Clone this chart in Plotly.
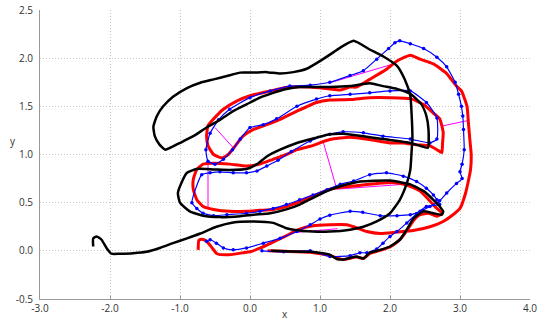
import plotly.graph_objects as go

# ---- black trajectory ----
black_x = [-2.24, -2.24, -2.19, -2.12, -2.05, -1.98, -1.86, -1.67, -1.48, -1.29, -1.10, -0.90, -0.71, -0.48, -0.24,
           0.05, 0.33, 0.52, 0.62, 0.90, 1.14, 1.43, 1.62, 1.81, 2.00, 2.14, 2.24, 2.29, 2.31, 2.32, 2.31, 2.29,
           2.21, 2.10, 1.90, 1.71, 1.48, 1.29, 1.19, 1.00, 0.81, 0.62, 0.43, 0.24, 0.05, -0.14, -0.33, -0.52,
           -0.71, -0.90, -1.10, -1.24, -1.33, -1.38, -1.36, -1.29, -1.21, -1.14, -1.00, -0.81, -0.62, -0.43,
           -0.24, -0.05, 0.14, 0.33, 0.52, 0.71, 0.86, 1.14, 1.43, 1.71, 1.90, 2.10, 2.29, 2.45, 2.52, 2.55,
           2.54, 2.43, 2.29, 1.90, 1.62, 1.33, 1.14, 0.95, 0.67, 0.43, 0.24, 0.10, -0.05, -0.29, -0.52, -0.76,
           -0.90, -0.98, -1.03, -1.00, -0.86, -0.67, -0.43, -0.14, 0.05, 0.29, 0.52, 0.71, 0.90, 1.10, 1.29,
           1.57, 2.00, 2.29, 2.48, 2.62, 2.71, 2.76, 2.74, 2.62, 2.48, 2.43, 2.33, 2.24, 2.14, 2.00, 1.86,
           1.71, 1.62, 1.52, 1.33, 1.24, 1.14, 0.86, 0.50, 0.30]
black_y = [0.045, 0.13, 0.15, 0.115, 0.03, -0.03, -0.03, -0.025, -0.01, 0.03, 0.08, 0.13, 0.18, 0.25, 0.295,
           0.305, 0.29, 0.235, 0.22, 0.20, 0.20, 0.22, 0.25, 0.305, 0.39, 0.53, 0.70, 0.84, 1.05, 1.16, 1.40,
           1.61, 1.78, 1.92, 2.02, 2.09, 2.18, 2.11, 2.06, 1.97, 1.89, 1.855, 1.84, 1.855, 1.85, 1.85, 1.815,
           1.78, 1.745, 1.69, 1.60, 1.50, 1.40, 1.29, 1.19, 1.10, 1.05, 1.07, 1.12, 1.19, 1.28, 1.36, 1.45,
           1.52, 1.59, 1.64, 1.68, 1.70, 1.70, 1.70, 1.71, 1.74, 1.71, 1.68, 1.63, 1.52, 1.40, 1.26, 1.07,
           1.09, 1.12, 1.16, 1.19, 1.215, 1.21, 1.175, 1.12, 1.05, 0.98, 0.90, 0.85, 0.84, 0.845, 0.85, 0.81,
           0.705, 0.60, 0.50, 0.41, 0.365, 0.35, 0.36, 0.375, 0.39, 0.43, 0.48, 0.55, 0.62, 0.67, 0.72, 0.73,
           0.69, 0.62, 0.53, 0.46, 0.41, 0.375, 0.39, 0.41, 0.39, 0.33, 0.22, 0.115, 0.045, 0.01, -0.02, -0.08,
           -0.06, -0.09, -0.085, -0.04, -0.01, -0.005, 0.0]

# ---- red trajectory ----
red_x = [-0.74, -0.73, -0.69, -0.62, -0.54, -0.47, -0.30, -0.10, 0.00, 0.15, 0.30, 0.50, 0.69, 0.90, 1.14,
         1.38, 1.52, 1.67, 1.86, 2.10, 2.33, 2.57, 2.76, 2.90, 3.00, 3.08, 3.15, 3.16, 3.14, 3.12, 3.10, 3.02,
         2.95, 2.81, 2.62, 2.43, 2.29, 2.10, 1.95, 1.71, 1.52, 1.43, 1.29, 1.14, 0.86, 0.57, 0.29, 0.00,
         -0.19, -0.38, -0.52, -0.60, -0.62, -0.60, -0.52, -0.40, -0.31, -0.21, -0.10, 0.05, 0.24, 0.43, 0.67,
         0.95, 1.14, 1.43, 1.71, 2.00, 2.29, 2.48, 2.62, 2.71, 2.76, 2.75, 2.74, 2.67, 2.57, 2.38, 2.19, 2.00,
         1.71, 1.43, 1.14, 0.86, 0.67, 0.52, 0.33, 0.14, -0.05, -0.29, -0.52, -0.67, -0.76, -0.81, -0.81,
         -0.76, -0.67, -0.52, -0.29, -0.05, 0.14, 0.33, 0.52, 0.71, 0.90, 1.14, 1.29, 1.58, 1.83, 2.03, 2.23,
         2.43, 2.58, 2.67, 2.75, 2.67, 2.55, 2.43, 2.33, 2.24, 2.14, 2.00, 1.86, 1.71, 1.62, 1.52, 1.33,
         1.14, 0.86, 0.50, 0.25]
red_y = [0.01, 0.11, 0.12, 0.10, 0.03, -0.03, -0.04, -0.02, -0.01, 0.03, 0.08, 0.15, 0.22, 0.26, 0.27,
         0.27, 0.24, 0.20, 0.18, 0.195, 0.21, 0.25, 0.305, 0.375, 0.44, 0.60, 0.84, 1.00, 1.16, 1.33, 1.50,
         1.66, 1.71, 1.84, 1.94, 1.99, 2.03, 1.97, 1.885, 1.78, 1.70, 1.70, 1.67, 1.68, 1.70, 1.70, 1.66,
         1.61, 1.555, 1.47, 1.37, 1.30, 1.19, 1.09, 1.00, 0.965, 1.00, 1.09, 1.19, 1.26, 1.31, 1.365, 1.45,
         1.54, 1.565, 1.57, 1.59, 1.59, 1.58, 1.52, 1.43, 1.37, 1.23, 1.11, 1.02, 1.05, 1.09, 1.10, 1.12,
         1.12, 1.155, 1.18, 1.155, 1.085, 1.05, 1.00, 0.95, 0.90, 0.88, 0.90, 0.91, 0.90, 0.845, 0.74, 0.64,
         0.53, 0.46, 0.43, 0.41, 0.41, 0.42, 0.43, 0.46, 0.51, 0.57, 0.64, 0.66, 0.68, 0.70, 0.71, 0.685,
         0.62, 0.51, 0.44, 0.39, 0.36, 0.39, 0.375, 0.31, 0.21, 0.115, 0.04, 0.005, -0.03, -0.08, -0.065,
         -0.09, -0.05, -0.015, -0.005, 0.0]

# ---- blue trajectory ----
blue_x = [-0.62, -0.57, -0.48, -0.38, -0.24, -0.05, 0.19, 0.43, 0.67, 0.86, 1.00, 1.14, 1.43, 1.61, 1.86,
          2.10, 2.29, 2.43, 2.57, 2.71, 2.81, 2.95, 3.03, 3.00, 3.03, 3.06, 3.05, 3.04, 3.02, 2.98, 2.93,
          2.81, 2.67, 2.48, 2.29, 2.14, 2.07, 1.98, 1.81, 1.62, 1.43, 1.14, 0.86, 0.57, 0.29, 0.00, -0.29,
          -0.45, -0.57, -0.63, -0.60, -0.50, -0.38, -0.25, -0.14, 0.00, 0.19, 0.38, 0.67, 0.95, 1.14, 1.43,
          1.71, 2.00, 2.29, 2.52, 2.67, 2.67, 2.57, 2.29, 1.90, 1.62, 1.33, 1.14, 0.86, 0.59, 0.40, 0.24,
          0.10, -0.05, -0.24, -0.43, -0.57, -0.69, -0.83, -0.76, -0.67, -0.52, -0.33, -0.05, 0.14, 0.33,
          0.52, 0.71, 0.90, 1.10, 1.29, 1.48, 1.71, 1.95, 2.19, 2.38, 2.52, 2.62, 2.67, 2.71, 2.52, 2.38,
          2.24, 2.10, 2.00, 1.90, 1.81, 1.67, 1.57, 1.43, 1.14, 0.86, 0.48, 0.17]
blue_y = [0.10, 0.115, 0.08, 0.03, 0.01, 0.03, 0.08, 0.13, 0.20, 0.27, 0.33, 0.37, 0.41, 0.40, 0.365,
          0.365, 0.375, 0.41, 0.46, 0.52, 0.60, 0.70, 0.75, 0.82, 0.90, 1.05, 1.26, 1.40, 1.50, 1.625, 1.75,
          1.91, 2.01, 2.10, 2.15, 2.18, 2.16, 2.10, 1.99, 1.87, 1.82, 1.75, 1.72, 1.71, 1.66, 1.59, 1.47,
          1.36, 1.22, 1.05, 0.93, 0.90, 0.95, 1.05, 1.16, 1.28, 1.31, 1.37, 1.50, 1.575, 1.61, 1.625,
          1.64, 1.66, 1.66, 1.54, 1.38, 1.16, 1.12, 1.16, 1.19, 1.225, 1.235, 1.21, 1.14, 1.03, 0.94, 0.88,
          0.83, 0.81, 0.81, 0.82, 0.81, 0.79, 0.50, 0.44, 0.39, 0.365, 0.375, 0.39, 0.41, 0.44, 0.48, 0.53,
          0.58, 0.635, 0.69, 0.725, 0.79, 0.81, 0.775, 0.72, 0.65, 0.58, 0.53, 0.48, 0.46, 0.385, 0.29,
          0.20, 0.15, 0.08, 0.02, -0.02, -0.02, -0.05, -0.06, 0.0, -0.01, 0.0]

# ---- magenta correspondence segments ----
link_x0 = [-0.50, -0.60, 1.05, 1.24, 0.65, 1.12, 2.74]
link_y0 = [1.28, 0.93, 1.12, 0.64, 0.19, 1.74, 1.295]
link_x1 = [-0.24, -0.60, 1.24, 2.19, 1.25, 2.05, 3.10]
link_y1 = [1.07, 0.44, 0.64, 0.69, 0.23, 1.94, 1.35]

x_ticks = [-3, -2, -1, 0, 1, 2, 3, 4]
y_ticks = [-0.5, 0.0, 0.5, 1.0, 1.5, 2.0, 2.5]

mx, my = [], []
for a, b, c, d in zip(link_x0, link_y0, link_x1, link_y1):
    mx += [a, c, None]
    my += [b, d, None]

fig = go.Figure()
fig.add_trace(go.Scatter(x=mx, y=my, mode="lines", line=dict(color="#ff00ff", width=1), hoverinfo="skip"))
fig.add_trace(go.Scatter(x=red_x, y=red_y, mode="lines",
                         line=dict(color="#ff0000", width=3, shape="spline", smoothing=0.5)))
fig.add_trace(go.Scatter(x=blue_x, y=blue_y, mode="lines+markers",
                         line=dict(color="#0000ff", width=1.2, shape="spline", smoothing=0.5),
                         marker=dict(color="#0000ff", size=3.5, symbol="circle")))
fig.add_trace(go.Scatter(x=black_x, y=black_y, mode="lines",
                         line=dict(color="#000000", width=2.5, shape="spline", smoothing=0.5)))

font = dict(family="Open Sans, DejaVu Sans, sans-serif", size=10, color="#333333")
axis_common = dict(showgrid=True, gridcolor="#c8c8c8", griddash="1px,2px", gridwidth=1,
                   zeroline=False, showline=True, linecolor="#999999", linewidth=1,
                   tickfont=font, fixedrange=True, automargin=False)
fig.update_layout(
    width=546, height=320,
    margin=dict(l=40, r=16, t=10, b=21, autoexpand=False),
    paper_bgcolor="white", plot_bgcolor="white",
    showlegend=False,
    font=font,
    xaxis=dict(range=[-3, 4], tickvals=x_ticks, ticktext=[f"{v:.1f}" for v in x_ticks],
               ticks="inside", ticklen=3, tickcolor="#999999", ticklabelstandoff=0, **axis_common),
    yaxis=dict(range=[-0.5, 2.5], tickvals=y_ticks, ticktext=[f"{v:.1f}" for v in y_ticks],
               ticks="", ticklabelstandoff=4, **axis_common),
)
fig.add_annotation(text="x", xref="paper", yref="paper", x=0.5, y=-0.052, yanchor="middle",
                   showarrow=False, font=font, height=10)
fig.add_annotation(text="y", xref="paper", yref="paper", x=-0.045, y=0.545, xanchor="right",
                   yanchor="middle", showarrow=False, font=font)

fig.write_html("out.html", config={"displayModeBar": False},
               post_script="document.body.style.margin='0';document.body.style.padding='0';")
